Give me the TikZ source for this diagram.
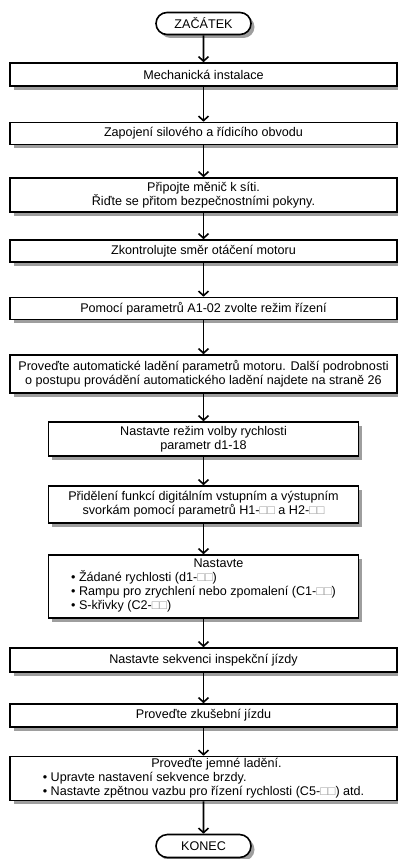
\documentclass[tikz,border=0pt]{standalone}
\usepackage{fontspec}
\setmainfont{Liberation Sans}
\usetikzlibrary{arrows.meta,shapes.misc,shadows}
\newcommand{\sqq}{{\color{black!40}□□}}

\begin{document}
\begin{tikzpicture}[x=1pt,y=-1pt]
 \tikzstyle{StepStyle}=[draw,line width=1.6pt,fill=white,minimum width=387pt,
   inner sep=1pt,align=center,font=\fontsize{12.6}{14}\selectfont,
   drop shadow={shadow xshift=3.5pt,shadow yshift=-3.5pt,fill=black!38,opacity=1}]
 \tikzstyle{NarrowStyle}=[StepStyle,minimum width=310pt]
 \tikzstyle{TermStyle}=[StepStyle,rounded rectangle,minimum width=97pt,minimum height=22pt]
 \tikzstyle{EdgeStyle}=[line width=1.6pt,-{Straight Barb[length=4.5pt,width=10pt]}]
 \useasboundingbox (0,0) rectangle (398,859);
 \node[TermStyle] (start) at (203.5,23.5) {ZAČÁTEK};
 \node[StepStyle,minimum height=23pt] (mech) at (203.5,74.5) {Mechanická instalace};
 \node[StepStyle,minimum height=22pt] (zapoj) at (203.5,133.5) {Zapojení silového a řídicího obvodu};
 \node[StepStyle,minimum height=34pt] (sit) at (203.5,195) {Připojte měnič k síti.\\Řiďte se přitom bezpečnostními pokyny.};
 \node[StepStyle,minimum height=22pt] (smer) at (203.5,251) {Zkontrolujte směr otáčení motoru};
 \node[StepStyle,minimum height=22pt] (rezim) at (203.5,308.5) {Pomocí parametrů A1-02 zvolte režim řízení};
 \node[StepStyle,minimum height=38pt] (lad) at (203.5,374) {Proveďte automatické ladění parametrů motoru. Další podrobnosti\\o postupu provádění automatického ladění najdete na straně 26};
 \node[NarrowStyle,minimum height=34pt] (volba) at (203.5,439) {Nastavte režim volby rychlosti\\parametr d1-18};
 \node[NarrowStyle,minimum height=37pt] (svork) at (203.5,504.5) {Přidělení funkcí digitálním vstupním a výstupním\\svorkám pomocí parametrů H1-\sqq{} a H2-\sqq};
 \node[NarrowStyle,minimum height=63pt] (nast) at (203.5,586.5) {\hspace*{30pt}Nastavte\\\begin{tabular}[t]{@{}l@{}}• Žádané rychlosti (d1-\sqq)\\• Rampu pro zrychlení nebo zpomalení (C1-\sqq)\\• S-křivky (C2-\sqq)\end{tabular}};
 \node[StepStyle,minimum height=24pt] (insp) at (203.5,660) {Nastavte sekvenci inspekční jízdy};
 \node[StepStyle,minimum height=23pt] (zkus) at (203.5,715.5) {Proveďte zkušební jízdu};
 \node[StepStyle,minimum height=44pt] (jemne) at (203.5,778.5) {\hspace*{26pt}Proveďte jemné ladění.\\\begin{tabular}[t]{@{}l@{}}• Upravte nastavení sekvence brzdy.\\• Nastavte zpětnou vazbu pro řízení rychlosti (C5-\sqq) atd.\end{tabular}};
 \node[TermStyle,minimum height=23pt] (konec) at (203.5,846) {KONEC};
 \foreach \a/\b in {start/mech,mech/zapoj,zapoj/sit,sit/smer,smer/rezim,rezim/lad,lad/volba,
   volba/svork,svork/nast,nast/insp,insp/zkus,zkus/jemne,jemne/konec}
   \draw[EdgeStyle] (\a) -- (\b);
\end{tikzpicture}
\end{document}
